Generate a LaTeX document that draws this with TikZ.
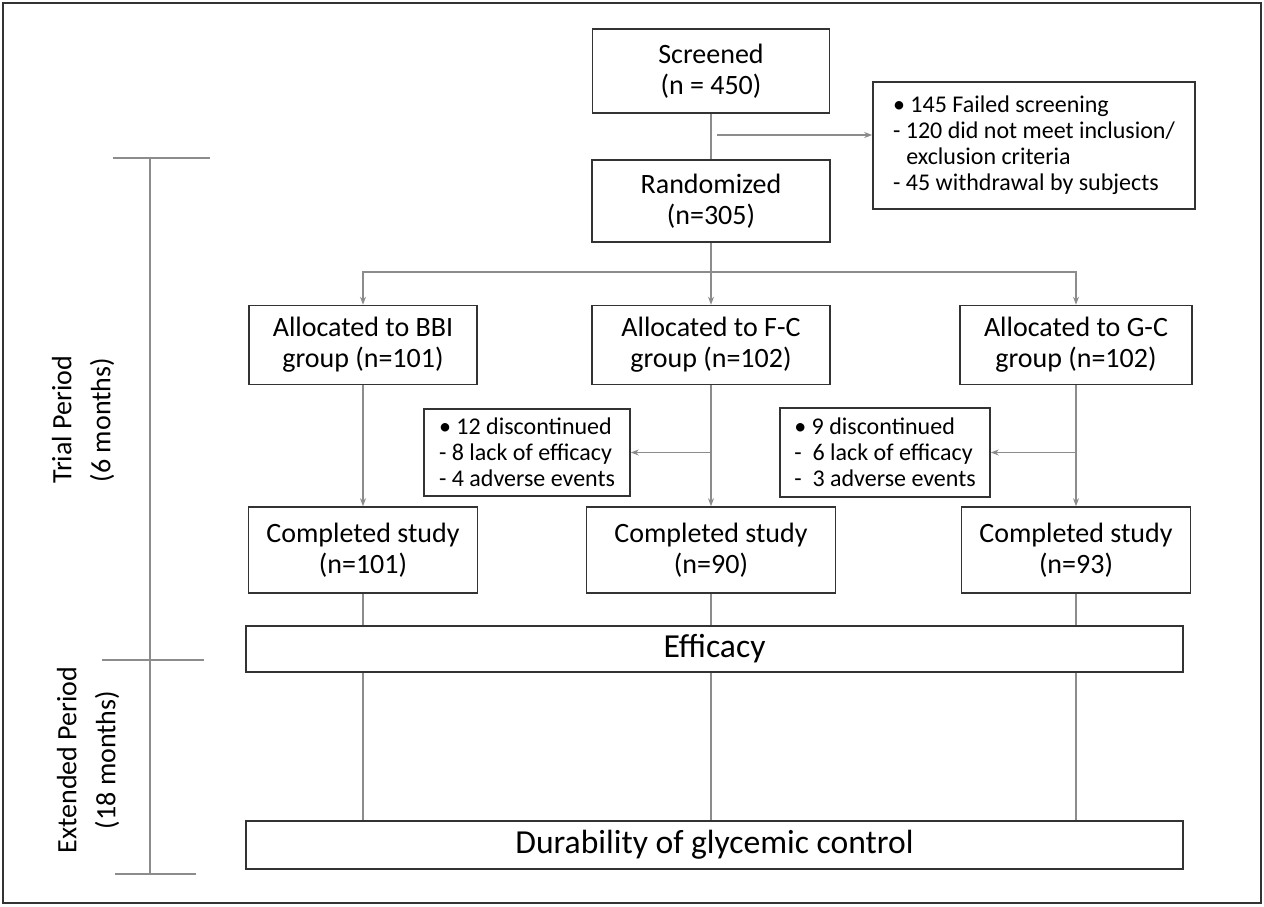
\documentclass[tikz,border=0pt]{standalone}
\usepackage{fontspec}
\setmainfont{Carlito}
\usepackage{tikz}
\usetikzlibrary{arrows.meta}
\tikzset{box/.style={draw=black!80, line width=0.8pt, rectangle, inner sep=1pt, align=center, font=\fontsize{14}{15.5}\selectfont},
  sidebox/.style={draw=black!80, line width=0.8pt, rectangle, inner sep=4pt, align=left, font=\fontsize{12}{13}\selectfont},
  widebox/.style={draw=black!80, line width=0.8pt, rectangle, inner sep=1pt, minimum width=468.5pt, font=\fontsize{16.8}{18}\selectfont},
  link/.style={draw=black!45, line width=0.55pt},
  arr/.style={link, -{Stealth[length=4pt, width=3pt]}},
  period/.style={rotate=90, align=center, font=\fontsize{14}{19.5}\selectfont}}

\begin{document}
\begin{tikzpicture}[x=0.5pt, y=-0.5pt]
      \useasboundingbox (0,0) rectangle (1264,906);
      \draw [black!80, line width=1pt] (3,3) rectangle (1261,903);
      % screening and randomisation
      \node [box, minimum width=118.5pt, minimum height=42pt] (scr) at (711,71) {Screened\\(n = 450)};
      \node [box, minimum width=119pt, minimum height=41pt] (rnd) at (711,201) {Randomized\\(n=305)};
      \node [sidebox, minimum width=161pt, minimum height=63.5pt] (excl) at (1034,145.5) {\textbullet\ 145 Failed screening\\- 120 did not meet inclusion/\\\hspace*{0.55em}exclusion criteria\\- 45 withdrawal by subjects};
      % allocation
      \node [box, minimum width=114pt, minimum height=39.5pt] (abbi) at (363,345) {Allocated to BBI\\group (n=101)};
      \node [box, minimum width=119pt, minimum height=39.5pt] (afc) at (711,345) {Allocated to F-C\\group (n=102)};
      \node [box, minimum width=116pt, minimum height=39.5pt] (agc) at (1076,345) {Allocated to G-C\\group (n=102)};
      % discontinued
      \node [sidebox, minimum width=103pt, minimum height=43.5pt] (dfc) at (527,452.5) {\textbullet\ 12 discontinued\\- 8 lack of efficacy\\- 4 adverse events};
      \node [sidebox, minimum width=105pt, minimum height=44.5pt] (dgc) at (885,452.5) {\textbullet\ 9 discontinued\\-\ \ 6 lack of efficacy\\-\ \ 3 adverse events};
      % completed
      \node [box, minimum width=114.5pt, minimum height=43pt] (cbbi) at (363,550) {Completed study\\(n=101)};
      \node [box, minimum width=124.5pt, minimum height=43pt] (cfc) at (711,550) {Completed study\\(n=90)};
      \node [box, minimum width=114.5pt, minimum height=43pt] (cgc) at (1076,550) {Completed study\\(n=93)};
      % outcomes
      \node [widebox, minimum height=23pt] (eff) at (714.5,649) {Efficacy};
      \node [widebox, minimum height=24pt] (dur) at (714.5,845) {Durability of glycemic control};
      % connectors
      \coordinate (exit) at (717,135);
      \coordinate (split) at (711,272);
      \draw [link] (scr) -- (rnd);
      \draw [arr] (exit) -- (excl.west |- exit);
      \draw [link] (rnd) -- (split);
      \draw [arr] (split) -| (abbi);
      \draw [arr] (split) -- (afc);
      \draw [arr] (split) -| (agc);
      \draw [arr] (abbi) -- (cbbi);
      \draw [arr] (afc) -- (cfc);
      \draw [arr] (agc) -- (cgc);
      \draw [arr] (afc |- dfc) -- (dfc.east);
      \draw [arr] (agc |- dgc) -- (dgc.east);
      \foreach \c in {cbbi, cfc, cgc} {
        \draw [link] (\c) -- (eff.north -| \c);
        \draw [link] (eff.south -| \c) -- (dur.north -| \c);
      }
      % time line
      \draw [link] (150,158) -- (150,874);
      \draw [link] (113,158) -- (210,158);
      \draw [link] (102,660) -- (204,660);
      \draw [link] (115,874) -- (196,874);
      \node [period] (trial) at (83,420) {Trial Period\\(6 months)};
      \node [period] (ext) at (88,760) {Extended Period\\(18 months)};
\end{tikzpicture}
\end{document}
